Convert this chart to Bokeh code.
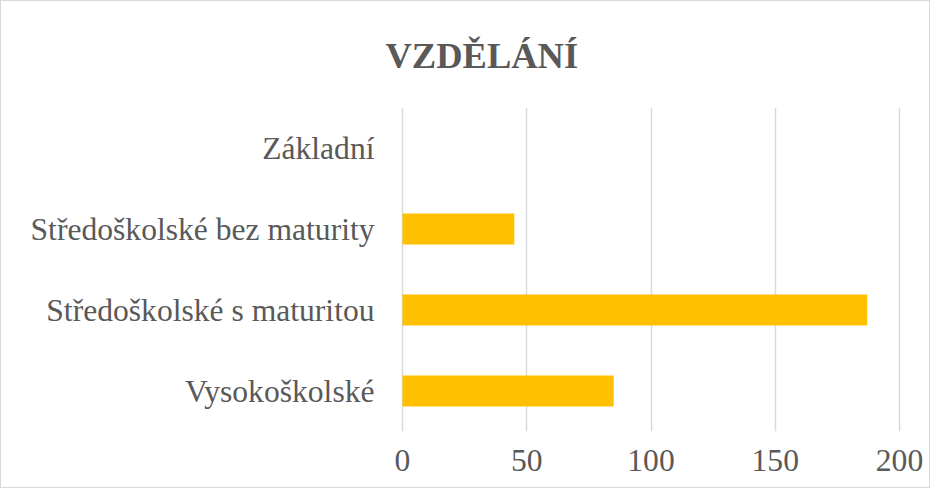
from bokeh.plotting import figure
from bokeh.models import FactorRange, Range1d, FixedTicker
from bokeh.embed import file_html
from bokeh.resources import INLINE

title_text = "VZDĚLÁNÍ"
categories = ["Základní", "Středoškolské bez maturity", "Středoškolské s maturitou", "Vysokoškolské"]
values = [0, 45, 187, 85]
x_ticks = [0, 50, 100, 150, 200]

TEXT = "#595959"
GRID = "#d9d9d9"
BAR = "#FFC000"
FONT = "'Liberation Serif', 'Times New Roman', serif"

p = figure(
    width=930, height=488,
    y_range=FactorRange(*reversed(categories)),
    x_range=Range1d(-0.8, 200.8),
    output_backend="svg", toolbar_location=None,
    title=title_text,
    min_border_left=399, min_border_right=30,
    min_border_top=104, min_border_bottom=58,
)
p.styles = {"border": "1px solid #d9d9d9"}

p.hbar(y=categories, right=values, height=0.38, color=BAR, line_color=None)

p.title.text_font = FONT
p.title.text_font_size = "36.5px"
p.title.text_font_style = "bold"
p.title.text_color = TEXT
p.title.align = "left"
p.title.offset = -15
p.title.standoff = 63

p.outline_line_color = None
p.ygrid.grid_line_color = None
p.xgrid.grid_line_color = GRID
p.xgrid.grid_line_width = 1.5
p.xaxis.ticker = FixedTicker(ticks=x_ticks)

for ax in (p.xaxis[0], p.yaxis[0]):
    ax.axis_line_color = None
    ax.major_tick_line_color = None
    ax.minor_tick_line_color = None
    ax.major_label_text_font = FONT
    ax.major_label_text_font_size = "31.6px"
    ax.major_label_text_color = TEXT

p.yaxis.major_label_standoff = 20
p.xaxis.major_label_standoff = 12

open("out.html", "w").write(file_html(p, INLINE))
